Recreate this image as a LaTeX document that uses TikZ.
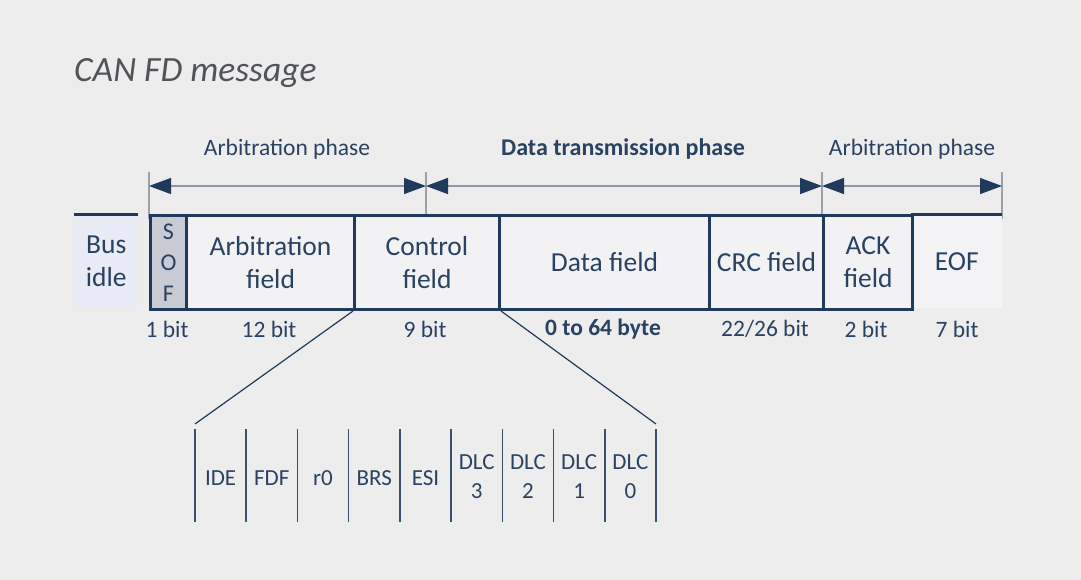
\documentclass[tikz,border=0pt]{standalone}
\usepackage{fontspec}
\setmainfont{Carlito}
\usetikzlibrary{arrows.meta}
\definecolor{bg}{HTML}{EDEDED}
\definecolor{navy}{HTML}{1F3A5A}
\definecolor{txt}{HTML}{2A4262}
\definecolor{ttl}{HTML}{505458}
\definecolor{boxfill}{HTML}{F2F2F5}
\definecolor{idlefill}{HTML}{E9EBF6}
\definecolor{eoffill}{HTML}{F3F3F5}
\definecolor{soffill}{HTML}{C8CBD3}
\definecolor{tickcol}{HTML}{9AA1AB}
\definecolor{arrline}{HTML}{8C98AA}
\definecolor{sepcol}{HTML}{3A506E}
\begin{document}
\begin{tikzpicture}[x=1pt,y=-1pt,
  field/.style={draw=navy, line width=3pt, fill=boxfill, minimum height=94pt,
    inner sep=0pt, align=center, text=txt, anchor=north west,
    font=\fontsize{27.5}{33}\selectfont},
  plainfield/.style={fill=#1, minimum height=94pt, inner sep=0pt, align=center,
    text=txt, anchor=north west, font=\fontsize{27.5}{33}\selectfont},
  phaselbl/.style={text=txt, font=\fontsize{23.5}{27}\selectfont, inner sep=0pt},
  bitlbl/.style={text=txt, font=\fontsize{23.5}{27}\selectfont, inner sep=0pt},
  sublbl/.style={text=txt, font=\fontsize{23}{29}\selectfont, inner sep=0pt, align=center},
  phasetick/.style={draw=tickcol, line width=1.5pt},
  phasearrow/.style={draw=arrline, line width=1.5pt,
    {Triangle[length=22pt,width=16pt,color=navy]}-{Triangle[length=22pt,width=16pt,color=navy]}},
  zoomline/.style={draw=navy, line width=1.2pt},
  sepline/.style={draw=sepcol, line width=1.5pt}
]
\fill[bg] (0,0) rectangle (1081,580);
\useasboundingbox (0,0) rectangle (1081,580);

% title
\node[anchor=west, text=ttl, font=\fontsize{35.5}{40}\selectfont\itshape, inner sep=0pt] (title) at (74,73) {CAN FD message};

% phase ticks
\coordinate (p1) at (149,186);
\coordinate (p2) at (426,186);
\coordinate (p3) at (822,186);
\coordinate (p4) at (1002,186);
\foreach \p in {p1,p2,p3,p4}{
  \draw[phasetick] ([yshift=-33pt]\p) -- ([yshift=14pt]\p);
}
\draw[phasearrow] (p1) -- (p2);
\draw[phasearrow] (p2) -- (p3);
\draw[phasearrow] (p3) -- (p4);
\node[phaselbl] (ph1) at (287,149) {Arbitration phase};
\node[phaselbl, font=\fontsize{24}{27}\selectfont\bfseries] (ph2) at (623,149) {Data transmission phase};
\node[phaselbl] (ph3) at (912,149) {Arbitration phase};

% frame fields
\node[plainfield=idlefill, minimum width=64pt] (idle) at (74,214) {Bus\\idle};
\draw[navy, line width=3pt] (idle.north west) -- (idle.north east);
\node[plainfield=eoffill, minimum width=91pt] (eof) at (911,214) {EOF};
\draw[navy, line width=3pt] (eof.north west) -- (eof.north east);
\node[field, fill=soffill, minimum width=36pt, font=\fontsize{24}{31}\selectfont] (sof) at (149,214) {S\\O\\F};
\node[field, minimum width=168pt] (arb) at (185,214) {Arbitration\\field};
\node[field, minimum width=145pt] (ctrl) at (353,214) {Control\\field};
\node[field, minimum width=210pt] (data) at (498,214) {Data field};
\node[field, minimum width=114pt] (crc) at (708,214) {CRC field};
\node[field, minimum width=89pt] (ack) at (822,214) {ACK\\field};

% bit labels
\node[bitlbl] (b1) at (167,329) {1 bit};
\node[bitlbl] (b2) at (269,329) {12 bit};
\node[bitlbl] (b3) at (425,329) {9 bit};
\node[bitlbl, font=\fontsize{23.5}{27}\selectfont\bfseries] (b4) at (603,329) {0 to 64 byte};
\node[bitlbl] (b5) at (765,329) {22/26 bit};
\node[bitlbl] (b6) at (866,329) {2 bit};
\node[bitlbl] (b7) at (957,329) {7 bit};

% control field detail
\coordinate (zl) at (195,424);
\coordinate (zr) at (656,424);
\draw[zoomline] (ctrl.south west) -- (zl);
\draw[zoomline] (ctrl.south east) -- (zr);
\foreach \i in {0,...,9}{
  \draw[sepline] ({195+51.22*\i},429) -- ({195+51.22*\i},522);
}
\node[sublbl] (ide) at ({195+51.22*0.5},478) {IDE};
\node[sublbl] (fdf) at ({195+51.22*1.5},478) {FDF};
\node[sublbl] (rzero) at ({195+51.22*2.5},478) {r0};
\node[sublbl] (brs) at ({195+51.22*3.5},478) {BRS};
\node[sublbl] (esi) at ({195+51.22*4.5},478) {ESI};
\node[sublbl] (dlc3) at ({195+51.22*5.5},477) {DLC\\3};
\node[sublbl] (dlc2) at ({195+51.22*6.5},477) {DLC\\2};
\node[sublbl] (dlc1) at ({195+51.22*7.5},477) {DLC\\1};
\node[sublbl] (dlc0) at ({195+51.22*8.5},477) {DLC\\0};
\end{tikzpicture}
\end{document}
